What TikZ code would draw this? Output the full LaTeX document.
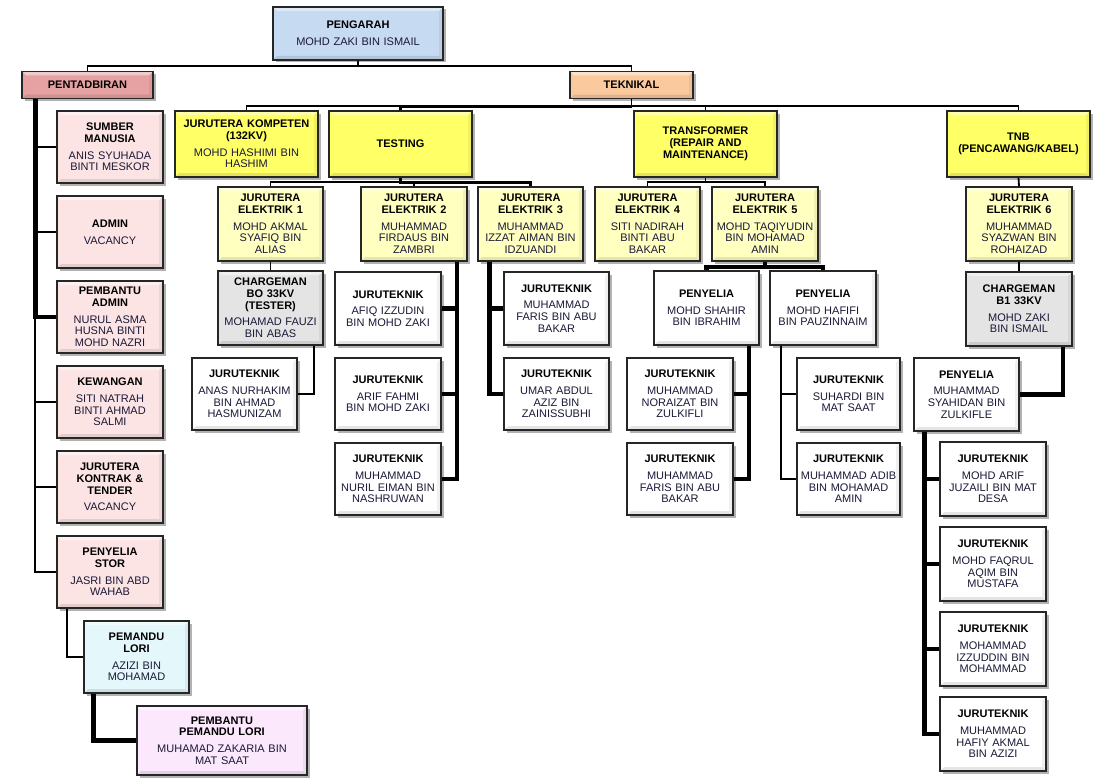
\documentclass[tikz,border=0pt]{standalone}
\usepackage{fontspec}
\setmainfont{Liberation Sans}
\usetikzlibrary{shadows}
\definecolor{cpeng}{RGB}{198,218,242}
\definecolor{cpent}{RGB}{230,162,162}
\definecolor{ctek}{RGB}{250,202,158}
\definecolor{cpink}{RGB}{252,228,228}
\definecolor{cyel}{RGB}{255,255,102}
\definecolor{cyelL}{RGB}{255,255,192}
\definecolor{cgrey}{RGB}{228,228,228}
\definecolor{ccyan}{RGB}{228,248,252}
\definecolor{cmag}{RGB}{252,232,252}
\definecolor{namec}{RGB}{25,25,55}
\newcommand\orgttl[1]{{\bfseries\color{black}#1}}
\tikzset{
  bevelpic/.style={path picture={
      \fill[white,opacity=0.45] (path picture bounding box.north west) -- (path picture bounding box.north east)
        -- ([xshift=-4pt,yshift=-4pt]path picture bounding box.north east) -- ([xshift=4pt,yshift=-4pt]path picture bounding box.north west) -- cycle;
      \fill[black,opacity=0.10] (path picture bounding box.south west) -- (path picture bounding box.south east)
        -- ([xshift=-4pt,yshift=4pt]path picture bounding box.south east) -- ([xshift=4pt,yshift=4pt]path picture bounding box.south west) -- cycle;
      \fill[black,opacity=0.06] (path picture bounding box.south east) -- (path picture bounding box.north east)
        -- ([xshift=-4pt,yshift=-4pt]path picture bounding box.north east) -- ([xshift=-4pt,yshift=4pt]path picture bounding box.south east) -- cycle;
    }},
  orgbox/.style={draw=black!85, line width=1.5pt, inner sep=0pt, align=center, text=namec,
    drop shadow={shadow xshift=2.5pt, shadow yshift=-2.5pt, opacity=0.3, fill=black}, bevelpic},
  sz/.style 2 args={minimum width=#1pt, text width=#1pt, minimum height=#2pt},
  conn/.style={draw=black, line width=1.8pt},
  connmid/.style={draw=black, line width=3pt},
  connthick/.style={draw=black, line width=4.5pt}
}
\begin{document}
\begin{tikzpicture}[x=1pt,y=-1pt, font=\fontsize{11}{11.7}\selectfont]
\fill[white] (0,0) rectangle (1100,784);
\useasboundingbox (0,0) rectangle (1100,784);

% ---------- top ----------
\node[orgbox, fill=cpeng, sz={170}{53}] (pengarah) at (358,33.5) {\orgttl{PENGARAH}\\[5pt]MOHD ZAKI BIN ISMAIL};
\node[orgbox, fill=cpent, sz={131}{27}] (pentadbiran) at (87.5,85) {\orgttl{PENTADBIRAN}};
\node[orgbox, fill=ctek, sz={123}{27}] (teknikal) at (631.5,85) {\orgttl{TEKNIKAL}};

% ---------- pentadbiran ----------
\node[orgbox, fill=cpink, sz={106}{72}] (sdm) at (110,147) {\orgttl{SUMBER\\MANUSIA}\\[5pt]ANIS SYUHADA\\BINTI MESKOR};
\node[orgbox, fill=cpink, sz={106}{72}] (admin) at (110,232) {\orgttl{ADMIN}\\[5pt]VACANCY};
\node[orgbox, fill=cpink, sz={106}{72}] (pembantu) at (110,317) {\orgttl{PEMBANTU\\ADMIN}\\[5pt]NURUL ASMA\\HUSNA BINTI\\MOHD NAZRI};
\node[orgbox, fill=cpink, sz={106}{72}] (kewangan) at (110,402) {\orgttl{KEWANGAN}\\[5pt]SITI NATRAH\\BINTI AHMAD\\SALMI};
\node[orgbox, fill=cpink, sz={106}{72}] (kontrak) at (110,487) {\orgttl{JURUTERA\\KONTRAK \&\\TENDER}\\[5pt]VACANCY};
\node[orgbox, fill=cpink, sz={106}{72}] (stor) at (110,572) {\orgttl{PENYELIA\\STOR}\\[5pt]JASRI BIN ABD\\WAHAB};
\node[orgbox, fill=ccyan, sz={105}{72}] (lori) at (136.5,657) {\orgttl{PEMANDU\\LORI}\\[5pt]AZIZI BIN\\MOHAMAD};
\node[orgbox, fill=cmag, sz={170}{69}] (pemlori) at (222,740.5) {\orgttl{PEMBANTU\\PEMANDU LORI}\\[5pt]MUHAMAD ZAKARIA BIN\\MAT SAAT};

% ---------- teknikal top row ----------
\node[orgbox, fill=cyel, sz={143}{66}] (komp) at (246.5,144) {\orgttl{JURUTERA KOMPETEN\\(132KV)}\\[5pt]MOHD HASHIMI BIN\\HASHIM};
\node[orgbox, fill=cyel, sz={143}{66}] (testing) at (400.5,144) {\orgttl{TESTING}};
\node[orgbox, fill=cyel, sz={143}{66}] (transformer) at (705.5,144) {\orgttl{TRANSFORMER\\(REPAIR AND\\MAINTENANCE)}};
\node[orgbox, fill=cyel, sz={143}{66}] (tnb) at (1018.5,144) {\orgttl{TNB\\(PENCAWANG/KABEL)}};

% ---------- jurutera elektrik row ----------
\node[orgbox, fill=cyelL, sz={105}{74}] (je1) at (270.5,224) {\orgttl{JURUTERA\\ELEKTRIK 1}\\[5pt]MOHD AKMAL\\SYAFIQ BIN\\ALIAS};
\node[orgbox, fill=cyelL, sz={106}{74}] (je2) at (414,224) {\orgttl{JURUTERA\\ELEKTRIK 2}\\[5pt]MUHAMMAD\\FIRDAUS BIN\\ZAMBRI};
\node[orgbox, fill=cyelL, sz={105}{74}] (je3) at (530.5,224) {\orgttl{JURUTERA\\ELEKTRIK 3}\\[5pt]MUHAMMAD\\IZZAT AIMAN BIN\\IDZUANDI};
\node[orgbox, fill=cyelL, sz={105}{74}] (je4) at (647.5,224) {\orgttl{JURUTERA\\ELEKTRIK 4}\\[5pt]SITI NADIRAH\\BINTI ABU\\BAKAR};
\node[orgbox, fill=cyelL, sz={106}{74}] (je5) at (765,224) {\orgttl{JURUTERA\\ELEKTRIK 5}\\[5pt]MOHD TAQIYUDIN\\BIN MOHAMAD\\AMIN};
\node[orgbox, fill=cyelL, sz={106}{74}] (je6) at (1019,224) {\orgttl{JURUTERA\\ELEKTRIK 6}\\[5pt]MUHAMMAD\\SYAZWAN BIN\\ROHAIZAD};

% ---------- JE1 branch ----------
\node[orgbox, fill=cgrey, sz={105}{74}] (cg1) at (270.5,308) {\orgttl{CHARGEMAN\\BO 33KV\\(TESTER)}\\[5pt]MOHAMAD FAUZI\\BIN ABAS};
\node[orgbox, fill=white, sz={105}{72}] (anas) at (244.5,394) {\orgttl{JURUTEKNIK}\\[5pt]ANAS NURHAKIM\\BIN AHMAD\\HASMUNIZAM};

% ---------- JE2 branch ----------
\node[orgbox, fill=white, sz={106}{73}] (afiq) at (388,308.5) {\orgttl{JURUTEKNIK}\\[5pt]AFIQ IZZUDIN\\BIN MOHD ZAKI};
\node[orgbox, fill=white, sz={106}{72}] (arif) at (388,394) {\orgttl{JURUTEKNIK}\\[5pt]ARIF FAHMI\\BIN MOHD ZAKI};
\node[orgbox, fill=white, sz={106}{72}] (nuril) at (388,479) {\orgttl{JURUTEKNIK}\\[5pt]MUHAMMAD\\NURIL EIMAN BIN\\NASHRUWAN};

% ---------- JE3 branch ----------
\node[orgbox, fill=white, sz={105}{73}] (farisA) at (556.5,308.5) {\orgttl{JURUTEKNIK}\\[5pt]MUHAMMAD\\FARIS BIN ABU\\BAKAR};
\node[orgbox, fill=white, sz={105}{72}] (umar) at (556.5,394) {\orgttl{JURUTEKNIK}\\[5pt]UMAR ABDUL\\AZIZ BIN\\ZAINISSUBHI};

% ---------- JE5 branch ----------
\node[orgbox, fill=white, sz={105}{74}] (pen1) at (706.5,308) {\orgttl{PENYELIA}\\[5pt]MOHD SHAHIR\\BIN IBRAHIM};
\node[orgbox, fill=white, sz={106}{74}] (pen2) at (823,308) {\orgttl{PENYELIA}\\[5pt]MOHD HAFIFI\\BIN PAUZINNAIM};
\node[orgbox, fill=white, sz={106}{72}] (noraizat) at (680,394) {\orgttl{JURUTEKNIK}\\[5pt]MUHAMMAD\\NORAIZAT BIN\\ZULKIFLI};
\node[orgbox, fill=white, sz={106}{72}] (farisB) at (680,479) {\orgttl{JURUTEKNIK}\\[5pt]MUHAMMAD\\FARIS BIN ABU\\BAKAR};
\node[orgbox, fill=white, sz={103}{72}] (suhardi) at (848.5,394) {\orgttl{JURUTEKNIK}\\[5pt]SUHARDI BIN\\MAT SAAT};
\node[orgbox, fill=white, sz={103}{72}] (adib) at (848.5,479) {\orgttl{JURUTEKNIK}\\[5pt]MUHAMMAD ADIB\\BIN MOHAMAD\\AMIN};

% ---------- JE6 branch ----------
\node[orgbox, fill=cgrey, sz={106}{74}] (cg2) at (1019,309) {\orgttl{CHARGEMAN\\B1 33KV}\\[5pt]MOHD ZAKI\\BIN ISMAIL};
\node[orgbox, fill=white, sz={105}{73}] (syahidan) at (966.5,394.5) {\orgttl{PENYELIA}\\[5pt]MUHAMMAD\\SYAHIDAN BIN\\ZULKIFLE};
\node[orgbox, fill=white, sz={106}{74}] (arifj) at (993,479) {\orgttl{JURUTEKNIK}\\[5pt]MOHD ARIF\\JUZAILI BIN MAT\\DESA};
\node[orgbox, fill=white, sz={106}{74}] (faqrul) at (993,564) {\orgttl{JURUTEKNIK}\\[5pt]MOHD FAQRUL\\AQIM BIN\\MUSTAFA};
\node[orgbox, fill=white, sz={106}{74}] (izzuddin) at (993,649) {\orgttl{JURUTEKNIK}\\[5pt]MOHAMMAD\\IZZUDDIN BIN\\MOHAMMAD};
\node[orgbox, fill=white, sz={106}{74}] (hafiy) at (993,734) {\orgttl{JURUTEKNIK}\\[5pt]MUHAMMAD\\HAFIY AKMAL\\BIN AZIZI};

% ---------- connectors ----------
\coordinate (topbus) at (358,66);
\draw[conn] (pengarah.south) -- (topbus) -| (pentadbiran.north);
\draw[conn] (topbus) -| (teknikal.north);

% pentadbiran spine
\draw[connthick] ([xshift=14pt]pentadbiran.south west) |- (pembantu.west);
\draw[conn] ([xshift=14pt]pentadbiran.south west) |- (sdm.west);
\draw[conn] ([xshift=14pt]pentadbiran.south west) |- (admin.west);
\draw[conn] ([xshift=14pt]pentadbiran.south west) |- (kewangan.west);
\draw[conn] ([xshift=14pt]pentadbiran.south west) |- (kontrak.west);
\draw[conn] ([xshift=14pt]pentadbiran.south west) |- (stor.west);
\draw[conn] ([xshift=11pt]stor.south west) |- (lori.west);
\draw[connthick] ([xshift=10pt]lori.south west) |- (pemlori.west);

% teknikal bus
\coordinate (tekbus) at (631.5,106);
\draw[conn] (teknikal.south) -- (tekbus);
\draw[conn] (tekbus) -| (komp.north);
\draw[connmid] (tekbus) -| (testing.north);
\draw[conn] (tekbus) -| (transformer.north);
\draw[conn] (tekbus) -| (tnb.north);

% testing
\coordinate (tbus) at (400.5,182);
\draw[conn] (je1.north) |- (tbus);
\draw[conn] (tbus) -| (je2.north);
\draw[connmid] (testing.south) -- (tbus) -| (je3.north);
\draw[conn] (je1.south) -- (cg1.north);
\draw[conn] ([xshift=-10pt]cg1.south east) |- (anas.east);
\draw[connthick] ([xshift=-11pt]je2.south east) |- (afiq.east);
\draw[connthick] ([xshift=-11pt]je2.south east) |- (arif.east);
\draw[connthick] ([xshift=-11pt]je2.south east) |- (nuril.east);
\draw[connthick] ([xshift=12pt]je3.south west) |- (farisA.west);
\draw[connthick] ([xshift=12pt]je3.south west) |- (umar.west);

% transformer
\coordinate (trbus) at (705.5,182);
\draw[conn] (transformer.south) -- (trbus) -| (je4.north);
\draw[conn] (trbus) -| (je5.north);
\coordinate (j5bus) at (765,267);
\draw[connthick] (je5.south) -- (j5bus) -| (pen1.north);
\draw[connthick] (j5bus) -| (pen2.north);
\draw[connthick] ([xshift=-11pt]pen1.south east) |- (noraizat.east);
\draw[connthick] ([xshift=-11pt]pen1.south east) |- (farisB.east);
\draw[conn] ([xshift=12pt]pen2.south west) |- (suhardi.west);
\draw[conn] ([xshift=12pt]pen2.south west) |- (adib.west);

% tnb
\draw[conn] (tnb.south) -- (je6.north);
\draw[conn] (je6.south) -- (cg2.north);
\draw[connthick] ([xshift=-10pt]cg2.south east) |- (syahidan.east);
\draw[connthick] ([xshift=11pt]syahidan.south west) |- (arifj.west);
\draw[connthick] ([xshift=11pt]syahidan.south west) |- (faqrul.west);
\draw[connthick] ([xshift=11pt]syahidan.south west) |- (izzuddin.west);
\draw[connthick] ([xshift=11pt]syahidan.south west) |- (hafiy.west);
\end{tikzpicture}
\end{document}
